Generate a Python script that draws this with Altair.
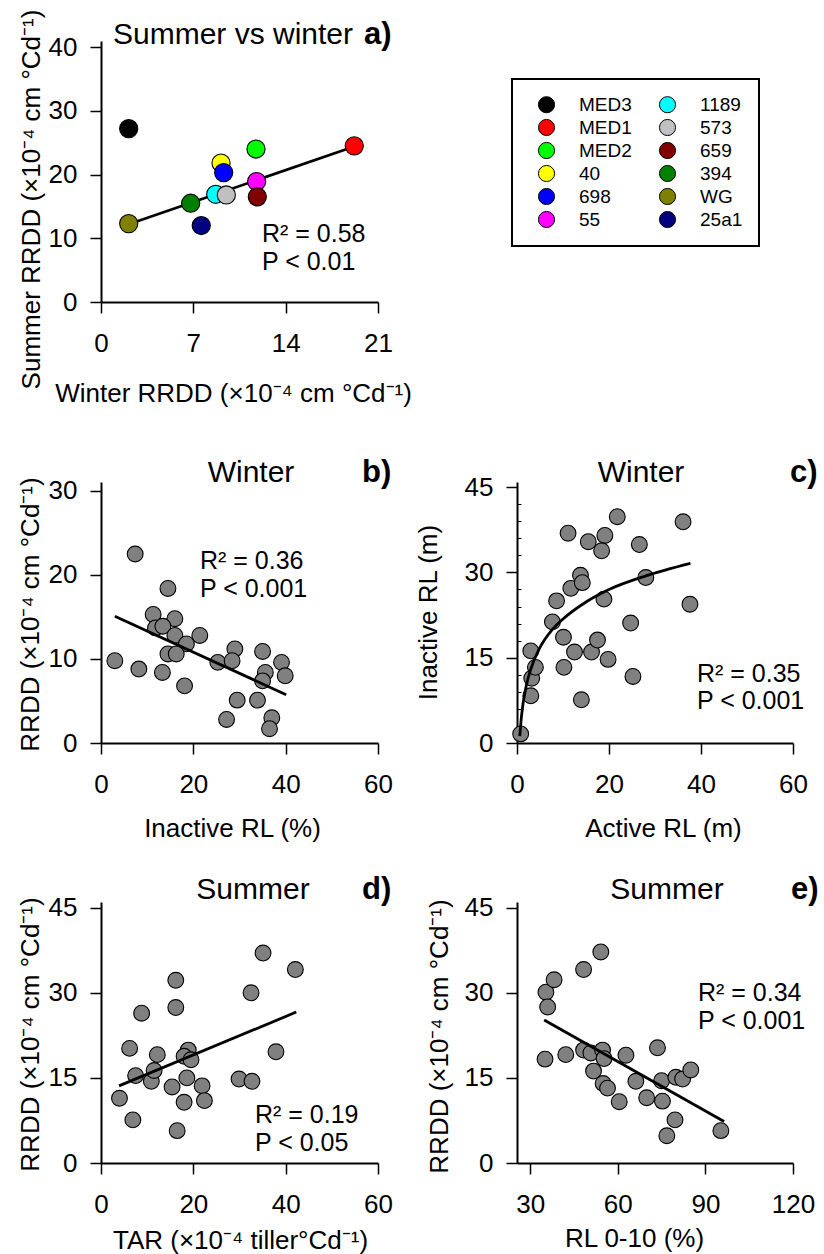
import altair as alt
import pandas as pd

FONT = "Liberation Sans"

# ---------------- panel a : summer vs winter ----------------
a_genotype = ["MED3", "MED1", "MED2", "40", "698", "55",
              "1189", "573", "659", "394", "WG", "25a1"]
a_colour = ["#000000", "#ff0000", "#00ff00", "#ffff00", "#0000ff", "#ff00ff",
            "#00ffff", "#c0c0c0", "#800000", "#008000", "#808000", "#000080"]
a_winter = [2.1, 19.2, 11.75, 9.1, 9.3, 11.8, 8.7, 9.5, 11.85, 6.8, 2.1, 7.6]
a_summer = [27.2, 24.5, 24.0, 21.8, 20.3, 18.9, 16.9, 16.8, 16.5, 15.5, 12.3, 12.0]
a_fit_x = [2.1, 19.2]
a_fit_y = [12.2, 24.4]
a_xticks = [0, 7, 14, 21]
a_yticks = [0, 10, 20, 30, 40]
a_labels = ["Summer vs winter", "a)", "R² = 0.58", "P < 0.01"]

# ---------------- panel b : winter, RRDD vs inactive RL ----------------
b_x = [7.4, 14.5, 11.3, 16.0, 11.8, 13.4, 16.0, 21.4, 18.5, 14.5, 16.3, 3.0, 8.2, 13.3,
       18.1, 25.3, 29.0, 28.4, 35.0, 39.1, 35.6, 35.0, 39.9, 29.5, 33.9, 27.2, 37.0, 36.5]
b_y = [22.5, 18.4, 15.3, 14.8, 13.7, 13.9, 12.8, 12.8, 11.8, 10.6, 10.6, 9.8, 8.8, 8.4,
       6.8, 9.6, 11.2, 9.8, 10.9, 9.6, 8.4, 7.4, 8.0, 5.1, 5.1, 2.8, 3.0, 1.7]
b_fit_x = [3.0, 40.1]
b_fit_y = [15.1, 5.75]
b_xticks = [0, 20, 40, 60]
b_yticks = [0, 10, 20, 30]
b_labels = ["Winter", "b)", "R² = 0.36", "P < 0.001"]

# ---------------- panel c : winter, inactive vs active RL ----------------
c_x = [0.8, 3.0, 3.2, 4.0, 3.0, 10.2, 14.0, 7.7, 10.1, 12.5, 16.2, 17.5, 19.8, 24.7, 25.2,
       8.6, 11.7, 13.8, 14.2, 18.9, 11.1, 15.5, 19.1, 18.4, 21.8, 26.6, 28.0, 36.1, 37.6]
c_y = [1.6, 8.3, 11.4, 13.3, 16.2, 13.3, 7.6, 21.3, 18.6, 16.0, 16.0, 18.1, 14.7, 21.1, 11.7,
       25.0, 27.2, 29.5, 28.2, 25.3, 36.9, 35.4, 36.5, 33.8, 39.8, 34.9, 29.1, 38.9, 24.4]
c_fit_x = [0.6, 1.0, 2.0, 3.0, 5.0, 7.7, 10.0, 15.0, 20.0, 28.0, 37.7]
c_fit_y = [1.2, 4.9, 10.0, 13.0, 16.8, 20.0, 21.8, 24.8, 27.0, 29.4, 31.6]
c_xticks = [0, 20, 40, 60]
c_yticks = [0, 15, 30, 45]
c_minor = [3, 6, 9, 12, 18, 21, 24, 27, 33, 36, 39, 42]
c_labels = ["Winter", "c)", "R² = 0.35", "P < 0.001"]

# ---------------- panel d : summer, RRDD vs TAR ----------------
d_x = [4.0, 6.9, 6.2, 7.5, 8.8, 10.9, 11.5, 12.2, 16.2, 16.2, 15.4, 16.5, 18.0, 18.6, 18.9,
       18.0, 19.5, 21.9, 22.4, 29.9, 32.7, 32.5, 35.1, 37.9, 42.1]
d_y = [11.4, 7.6, 20.2, 15.4, 26.4, 14.4, 16.3, 19.1, 32.2, 27.4, 13.4, 5.7, 10.7, 15.0, 19.9,
       18.8, 18.2, 13.6, 11.0, 14.8, 14.4, 30.0, 37.0, 19.6, 34.1]
d_fit_x = [3.9, 42.3]
d_fit_y = [13.6, 26.6]
d_xticks = [0, 20, 40, 60]
d_yticks = [0, 15, 30, 45]
d_labels = ["Summer", "d)", "R²  = 0.19", "P < 0.05"]

# ---------------- panel e : summer, RRDD vs RL 0-10 ----------------
e_x = [35.1, 35.4, 36.0, 38.2, 42.2, 48.3, 54.2, 48.3, 50.8, 51.7, 54.8, 55.3, 55.0, 56.5,
       60.5, 62.8, 66.2, 69.9, 73.6, 75.0, 75.3, 79.6, 76.8, 79.9, 82.2, 85.0, 95.3]
e_y = [18.3, 30.1, 27.5, 32.3, 19.1, 34.1, 37.2, 19.9, 19.4, 16.2, 19.9, 18.4, 14.0, 13.2,
       10.8, 19.0, 14.4, 11.5, 20.3, 14.5, 10.9, 7.6, 4.8, 15.1, 14.8, 16.4, 5.7]
e_fit_x = [34.8, 96.4]
e_fit_y = [25.2, 7.3]
e_xticks = [30, 60, 90, 120]
e_yticks = [0, 15, 30, 45]
e_labels = ["Summer", "e)", "R² = 0.34", "P < 0.001"]

SUP = "(×10⁻⁴ cm °Cd⁻¹)"
a_xtitle = "Winter RRDD " + SUP
a_ytitle = "Summer RRDD " + SUP
b_xtitle, b_ytitle = "Inactive RL (%)", "RRDD " + SUP
c_xtitle, c_ytitle = "Active RL (m)", "Inactive RL (m)"
d_xtitle, d_ytitle = "TAR (×10⁻⁴ tiller°Cd⁻¹)", "RRDD " + SUP
e_xtitle, e_ytitle = "RL 0-10 (%)", "RRDD (×10⁻⁴ cm  °Cd⁻¹)"

W_L, W_R, H = 277, 276, 261


def xax(values, title, tx, ty):
    return alt.Axis(values=values, title=title, titleX=tx, titleY=ty, format="d", orient="bottom",
                    tickSize=11, labelPadding=17)


def yax(values, title, tx, ty):
    return alt.Axis(values=values, title=title, titleX=tx, titleY=ty, format="d", orient="left",
                    tickSize=11, labelPadding=13)


def lin(lo, hi):
    return alt.Scale(domain=[lo, hi], nice=False, zero=False)


def note(text, x, y, size, weight="normal", align="left"):
    return alt.Chart(pd.DataFrame({"t": [text]})).mark_text(
        align=align, baseline="alphabetic", font=FONT, fontSize=size,
        fontWeight=weight, color="black").encode(
        x=alt.value(x), y=alt.value(y), text="t:N")


def dots(x, y, xs, ys, xa, ya):
    return alt.Chart(pd.DataFrame({"x": x, "y": y})).mark_point(
        filled=True, size=250, fill="#808080", stroke="black", strokeWidth=1.1, opacity=1
    ).encode(x=alt.X("x:Q", scale=xs, axis=xa), y=alt.Y("y:Q", scale=ys, axis=ya))


def fit(x, y, xs, ys, xa, ya, interp="linear"):
    return alt.Chart(pd.DataFrame({"x": x, "y": y})).mark_line(
        color="black", strokeWidth=2.8, interpolate=interp
    ).encode(x=alt.X("x:Q", scale=xs, axis=xa), y=alt.Y("y:Q", scale=ys, axis=ya))


def labels(lbls, title_x, title_y, title_align, letter_x, letter_y, note_x, note_y1, note_y2):
    return [
        note(lbls[0], title_x, title_y, 30, align=title_align),
        note(lbls[1], letter_x, letter_y, 31, weight="bold"),
        note(lbls[2], note_x, note_y1, 25),
        note(lbls[3], note_x, note_y2, 25),
    ]


# ---- panel a
axs, ays = lin(0, 21), lin(0, 40.95)
axa = xax(a_xticks, a_xtitle, 132, 78)
aya = yax(a_yticks, a_ytitle, -57, 158)
a_pts = alt.Chart(pd.DataFrame({"x": a_winter, "y": a_summer, "genotype": a_genotype})).mark_point(
    filled=True, size=330, stroke="black", strokeWidth=1.1, opacity=1
).encode(
    x=alt.X("x:Q", scale=axs, axis=axa),
    y=alt.Y("y:Q", scale=ays, axis=aya),
    color=alt.Color("genotype:N", scale=alt.Scale(domain=a_genotype, range=a_colour),
                    legend=alt.Legend(orient="none", legendX=411, legendY=38, columns=2, title=None,
                                      symbolType="circle", symbolSize=260, symbolStrokeColor="black",
                                      symbolStrokeWidth=1, symbolOffset=9, labelFont=FONT,
                                      labelFontSize=19, labelColor="black", labelOffset=23,
                                      columnPadding=17, rowPadding=2, padding=16,
                                      strokeColor="black")),
)
a_line = fit(a_fit_x, a_fit_y, axs, ays, axa, aya)
pa = alt.layer(a_line, a_pts, *labels(a_labels, 12, 3, "left", 263, 3, 161, 201, 229)
               ).properties(width=W_L, height=H)

spacer = alt.Chart(pd.DataFrame({"v": [0]})).mark_point(opacity=0).encode(
    x=alt.X("v:Q", axis=None), y=alt.Y("v:Q", axis=None)).properties(width=W_R, height=H + 21)

# ---- panel b
bxs, bys = lin(0, 60), lin(0, 31.07)
bxa = xax(b_xticks, b_xtitle, 131, 72)
bya = yax(b_yticks, b_ytitle, -58, 132)
pb = alt.layer(dots(b_x, b_y, bxs, bys, bxa, bya), fit(b_fit_x, b_fit_y, bxs, bys, bxa, bya),
               *labels(b_labels, 150, 0, "center", 261, 0, 99, 87, 115)
               ).properties(width=W_L, height=H)

# ---- panel c
cxs, cys = lin(0, 60), lin(0, 45.9)
cxa = xax(c_xticks, c_xtitle, 146, 72)
cya = yax(c_yticks, c_ytitle, -76, 130)
c_minor_axis = alt.Axis(orient="right", offset=-W_R, values=c_minor, labels=False, domain=False,
                        ticks=True, tickSize=4, tickWidth=1, title=None, grid=False)
pc = alt.layer(dots(c_x, c_y, cxs, cys, cxa, cya),
               fit(c_fit_x, c_fit_y, cxs, cys, cxa, c_minor_axis, interp="monotone"),
               *labels(c_labels, 124, 0, "center", 273, 0, 180, 200, 227)
               ).resolve_axis(y="independent").properties(width=W_R, height=H)

# ---- panel d
dxs, dys = lin(0, 60), lin(0, 46)
dxa = xax(d_xticks, d_xtitle, 139, 64)
dya = yax(d_yticks, d_ytitle, -58, 132)
pd_ = alt.layer(dots(d_x, d_y, dxs, dys, dxa, dya), fit(d_fit_x, d_fit_y, dxs, dys, dxa, dya),
                *labels(d_labels, 152, -3, "center", 261, -3, 154, 221, 249)
                ).properties(width=W_L, height=H)

# ---- panel e
exs, eys = lin(25.5, 120), lin(0, 46)
exa = xax(e_xticks, e_xtitle, 117, 62)
eya = yax(e_yticks, e_ytitle, -65, 134)
pe = alt.layer(dots(e_x, e_y, exs, eys, exa, eya), fit(e_fit_x, e_fit_y, exs, eys, exa, eya),
               *labels(e_labels, 150, -3, "center", 274, -3, 181, 99, 127)
               ).properties(width=W_R, height=H)

chart = alt.concat(pa, spacer, pb, pc, pd_, pe, columns=2,
                   spacing={"row": 159, "column": 139}, bounds="flush"
                   ).resolve_scale(color="independent")

chart = chart.configure_view(stroke=None).configure_axis(
    grid=False, domainColor="black", domainWidth=2, tickColor="black", tickWidth=1.5,
    labelFont=FONT, labelFontSize=26, labelColor="black", titleFont=FONT, titleFontSize=26,
    titleFontWeight="normal", titleColor="black", labelFlush=False, labelOverlap=False
).configure_legend(
    strokeWidth=2
).properties(padding={"left": 16, "top": 9, "right": 5, "bottom": 5})

chart.save("out.html", embed_options={"renderer": "svg", "actions": False})
